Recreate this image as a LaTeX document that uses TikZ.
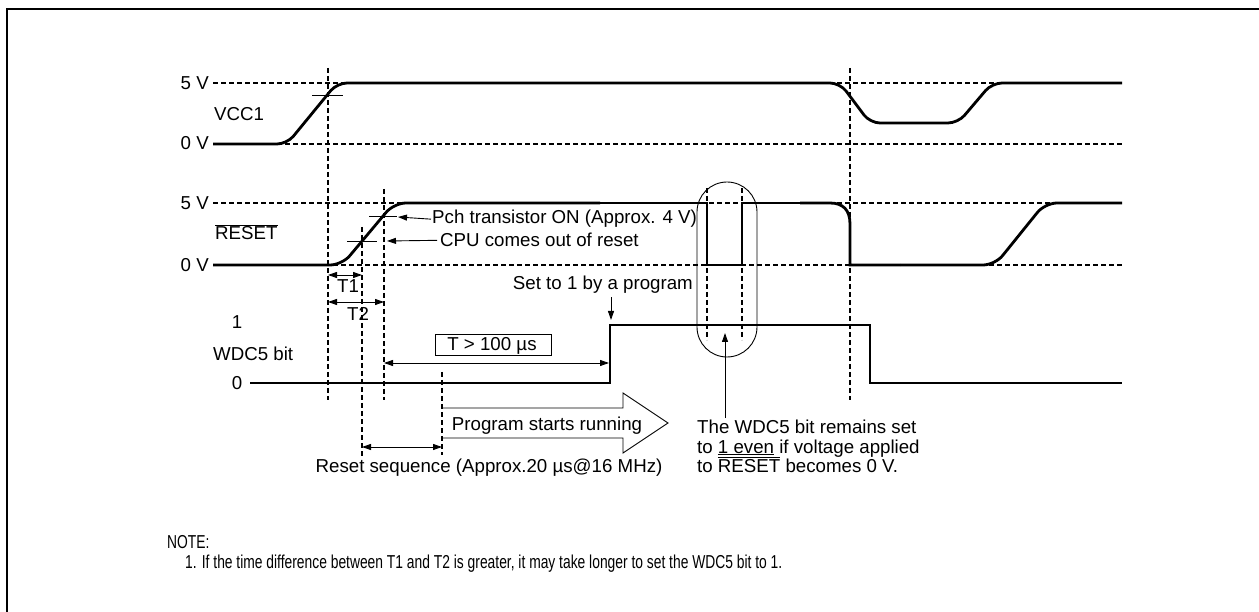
\documentclass[tikz,border=0pt]{standalone}
\usepackage{fontspec}
\setmainfont{Liberation Sans}
\usetikzlibrary{arrows.meta}
\begin{document}
\begin{tikzpicture}[x=1pt,y=-1pt,
  sig/.style={line width=2.8pt},
  grd/.style={line width=1.7pt, dash pattern=on 5pt off 3pt},
  thin/.style={line width=0.9pt},
  arr/.style={thin,-{Triangle[length=9pt,width=6pt]}},
  darr/.style={thin,{Triangle[length=9pt,width=6pt]}-{Triangle[length=9pt,width=6pt]}},
  lbl/.style={font=\fontsize{18.7}{21}\selectfont, inner sep=0pt},
  nar/.style={font=\fontsize{18.7}{21}\selectfont, inner sep=0pt},
]
\useasboundingbox (0,0) rectangle (1259,612);
\draw[line width=1.5pt] (7,612) -- (7,9) -- (1259,9);

% level lines
\foreach \y in {83,144,203,265} \draw[grd] (213,\y) -- (1122,\y);

% vertical guides
\draw[grd] (328,68) -- (328,400);
\draw[grd] (850,68) -- (850,400);
\draw[grd] (362,227) -- (362,457);
\draw[grd] (384,189) -- (384,400);
\draw[grd] (707,188) -- (707,340);
\draw[grd] (742,188) -- (742,340);
\draw[grd] (442,372) -- (442,455);

% VCC1
\draw[sig, rounded corners=10pt] (213,144) -- (287,144) -- (337,83) -- (840,83) -- (870,123) -- (958,123) -- (992,83) -- (1122,83);
\draw[thin] (312,95) -- (343,95);

% RESET
\draw[sig, rounded corners=12pt] (213,265) -- (342,265) -- (394,203) -- (600,203);
\draw[sig] (600,203) -- (707,203) -- (707,265) -- (742,265) -- (742,203) -- (800,203);
\draw[sig] (800,203) -- (830,203) .. controls (843,203) and (850,210) .. (850,224) -- (850,265) -- (900,265);
\draw[sig, rounded corners=12pt] (900,265) -- (995,265) -- (1045,203) -- (1122,203);
\draw[thin] (347,241) -- (377,241);
\draw[thin] (369,216) -- (397,216);

% WDC5
\draw[sig] (250,383) -- (610,383) -- (610,325) -- (870,325) -- (870,383) -- (1122,383);

% left labels
\node[lbl, anchor=base east] (v5a) at (209,90) {5 V};
\node[lbl, anchor=base east] (v0a) at (209,150) {0 V};
\node[lbl, anchor=base east] (v5b) at (209,210) {5 V};
\node[lbl, anchor=base east] (v0b) at (209,272) {0 V};
\node[lbl, anchor=base west] (vcc) at (214,121) {VCC1};
\node[lbl, anchor=base west] (rst) at (215,240) {$\overline{\mbox{RESET}}$};
\node[lbl, anchor=base west] (wdc) at (213,361) {WDC5 bit};
\node[lbl, anchor=base] (one) at (237,329) {1};
\node[lbl, anchor=base] (zero) at (237,389) {0};

% annotations
\node[lbl, anchor=base west] (pch) at (432,224) {Pch transistor ON (Approx. 4 V)};
\draw[arr] ([xshift=-1pt]pch.west) -- (398,217);
\node[lbl, anchor=base west] (cpu) at (440,247) {CPU comes out of reset};
\draw[arr] ([xshift=-3pt]cpu.west) -- (387,241);
\node[lbl, anchor=base east] (set) at (693,290) {Set to 1 by a program};
\coordinate (settip) at (611,320);
\draw[arr] (settip |- set.south) ++(0,3) -- (settip);

\draw[darr] (328,275) -- (362,275);
\node[lbl, anchor=base] (t1) at (348,293) {T1};
\draw[darr] (328,302) -- (384,302);
\node[lbl, anchor=base] (t2) at (358,321) {T2};

\node[lbl, anchor=base] (t100) at (492,351) {T > 100 µs};
\draw[thin] (435,334) rectangle (551,355);
\draw[darr] (384,363) -- (609,363);

\draw[thin] (442,408) -- (623,408) -- (623,393) -- (668,423) -- (623,453) -- (623,438) -- (442,438);
\node[lbl, anchor=base] (prog) at (547,431) {Program starts running};

\draw[darr] (362,447) -- (442,447);
\node[lbl, anchor=base] (rseq) at (489,472) {Reset sequence (Approx.20 µs@16 MHz)};

% oval and explanation
\draw[thin, rounded corners=30pt] (697,182) rectangle (757,357);
\node[lbl, anchor=base west] (w1) at (697,433) {The WDC5 bit remains set};
\node[lbl, anchor=base west] (w2) at (697,453) {to \underline{1 even} if voltage applied};
\node[lbl, anchor=base west] (w3) at (697,472) {to $\overline{\mbox{RESET}}$ becomes 0 V.};
\coordinate (otip) at (725,333);
\draw[arr] (725,418) -- (otip);

% note
\node[nar, anchor=base west] (note) at (167,548) {\scalebox{0.74}[1]{NOTE:}};
\node[nar, anchor=base west] (note1) at (185,568) {\scalebox{0.74}[1]{1. If the time difference between T1 and T2 is greater, it may take longer to set the WDC5 bit to 1.}};
\end{tikzpicture}
\end{document}
